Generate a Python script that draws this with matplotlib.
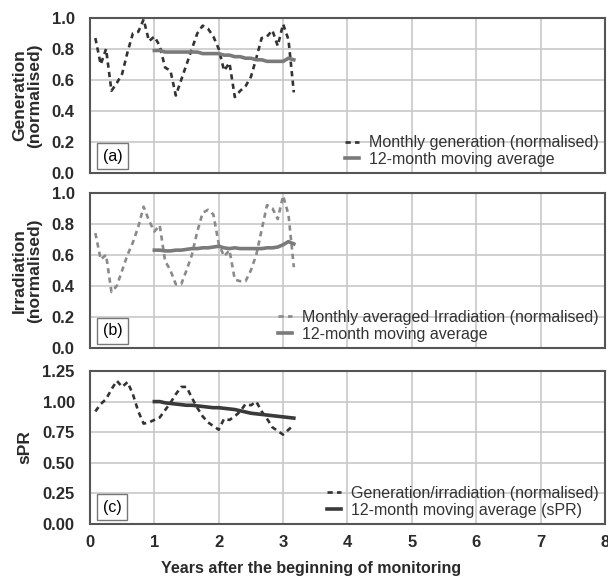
import numpy as np
import matplotlib.pyplot as plt

plt.rcParams['font.family'] = ['Liberation Sans', 'DejaVu Sans']
plt.rcParams['font.size'] = 10

# months after the start of monitoring
months = list(range(1, 39))
ma_months = list(range(12, 39))

gen_monthly = [0.87, 0.70, 0.80, 0.53, 0.58, 0.64, 0.78, 0.90, 0.91, 0.99,
               0.85, 0.88, 0.82, 0.68, 0.66, 0.50, 0.60, 0.70, 0.80, 0.90,
               0.95, 0.93, 0.88, 0.80, 0.66, 0.71, 0.49, 0.53, 0.56, 0.62,
               0.74, 0.87, 0.88, 0.92, 0.82, 0.96, 0.86, 0.52]
gen_ma = [0.79, 0.79, 0.78, 0.78, 0.78, 0.78, 0.78, 0.78, 0.78, 0.77,
          0.77, 0.77, 0.77, 0.76, 0.76, 0.75, 0.75, 0.74, 0.74, 0.73,
          0.73, 0.72, 0.72, 0.72, 0.72, 0.74, 0.73]

irr_monthly = [0.74, 0.57, 0.60, 0.36, 0.40, 0.50, 0.60, 0.68, 0.78, 0.91,
               0.82, 0.75, 0.79, 0.56, 0.50, 0.41, 0.41, 0.50, 0.60, 0.75,
               0.87, 0.89, 0.86, 0.67, 0.59, 0.63, 0.44, 0.43, 0.43, 0.50,
               0.60, 0.76, 0.92, 0.90, 0.83, 0.98, 0.86, 0.52]
irr_ma = [0.63, 0.63, 0.625, 0.625, 0.63, 0.63, 0.635, 0.64, 0.64, 0.645,
          0.645, 0.65, 0.655, 0.645, 0.64, 0.645, 0.64, 0.64, 0.64, 0.64,
          0.64, 0.645, 0.645, 0.65, 0.665, 0.685, 0.67]

spr_monthly = [0.92, 0.98, 1.02, 1.10, 1.17, 1.12, 1.16, 1.06, 0.92, 0.82,
               0.83, 0.85, 0.87, 0.93, 0.99, 1.06, 1.12, 1.12, 1.03, 0.95,
               0.88, 0.83, 0.80, 0.77, 0.86, 0.85, 0.88, 0.92, 0.98, 0.97,
               1.00, 0.92, 0.86, 0.79, 0.76, 0.73, 0.77, 0.81]
spr_ma = [1.00, 1.00, 0.99, 0.985, 0.98, 0.975, 0.97, 0.97, 0.965, 0.96,
          0.955, 0.95, 0.95, 0.945, 0.94, 0.935, 0.925, 0.915, 0.905, 0.90,
          0.895, 0.89, 0.885, 0.88, 0.875, 0.87, 0.865]

x_m = np.array(months) / 12
x_ma = np.array(ma_months) / 12

panels = [
    dict(monthly=gen_monthly, ma=gen_ma, ylabel='Generation\n(normalised)',
         tag='(a)', ymax=1.0, ystep=0.2, fmt='%.1f',
         c_m='#333333', c_ma='#7a7a7a',
         lab_m='Monthly generation (normalised)', lab_ma='12-month moving average'),
    dict(monthly=irr_monthly, ma=irr_ma, ylabel='Irradiation\n(normalised)',
         tag='(b)', ymax=1.0, ystep=0.2, fmt='%.1f',
         c_m='#8a8a8a', c_ma='#7a7a7a',
         lab_m='Monthly averaged Irradiation (normalised)', lab_ma='12-month moving average'),
    dict(monthly=spr_monthly, ma=spr_ma, ylabel='sPR',
         tag='(c)', ymax=1.25, ystep=0.25, fmt='%.2f',
         c_m='#333333', c_ma='#3a3a3a',
         lab_m='Generation/irradiation (normalised)', lab_ma='12-month moving average (sPR)'),
]

fig = plt.figure(figsize=(6.08, 5.77), dpi=100)
boxes = [[0.148, 0.700, 0.847, 0.269],
         [0.148, 0.397, 0.847, 0.269],
         [0.148, 0.092, 0.847, 0.265]]

for i, (p, b) in enumerate(zip(panels, boxes)):
    ax = fig.add_axes(b)
    ax.plot(x_m, p['monthly'], color=p['c_m'], lw=1.9, linestyle=(0, (2, 1.6)),
            label=p['lab_m'])
    ax.plot(x_ma, p['ma'], color=p['c_ma'], lw=2.6, label=p['lab_ma'])
    ax.set_xlim(0, 8)
    ax.set_ylim(0, p['ymax'])
    ax.set_yticks(np.arange(0, p['ymax'] + 1e-9, p['ystep']))
    ax.yaxis.set_major_formatter(plt.FormatStrFormatter(p['fmt']))
    ax.set_xticks(range(0, 9))
    ax.grid(True, color='#c8c8c8', lw=1.2)
    ax.set_axisbelow(True)
    for s in ax.spines.values():
        s.set_color('#555555')
        s.set_linewidth(1.5)
    ax.tick_params(length=0, labelsize=12, colors='#2a2a2a')
    ax.tick_params(axis='y', pad=11)
    ax.tick_params(axis='x', pad=8)
    for lbl in ax.get_xticklabels() + ax.get_yticklabels():
        lbl.set_fontweight('bold')
    if i < 2:
        ax.tick_params(labelbottom=False)
    ax.set_ylabel(p['ylabel'], fontsize=12.5, fontweight='bold', color='#2a2a2a',
                  labelpad=7, linespacing=1.0)
    ax.text(0.025, 0.11, p['tag'], transform=ax.transAxes, fontsize=11.5,
            va='center', ha='left',
            bbox=dict(boxstyle='square,pad=0.35', fc='white', ec='#777777', lw=1))
    leg = ax.legend(loc='lower right', frameon=False, fontsize=11.5,
                    handlelength=0.9, handletextpad=0.6, labelspacing=0.1,
                    borderaxespad=0.2, borderpad=0.2)
    for t in leg.get_texts():
        t.set_color('#333333')

ax.set_xlabel('Years after the beginning of monitoring', fontsize=11.5,
              fontweight='bold', color='#2a2a2a')
ax.xaxis.set_label_coords(0.43, -0.24)

fig.savefig('out.png', dpi=100, facecolor='white')
